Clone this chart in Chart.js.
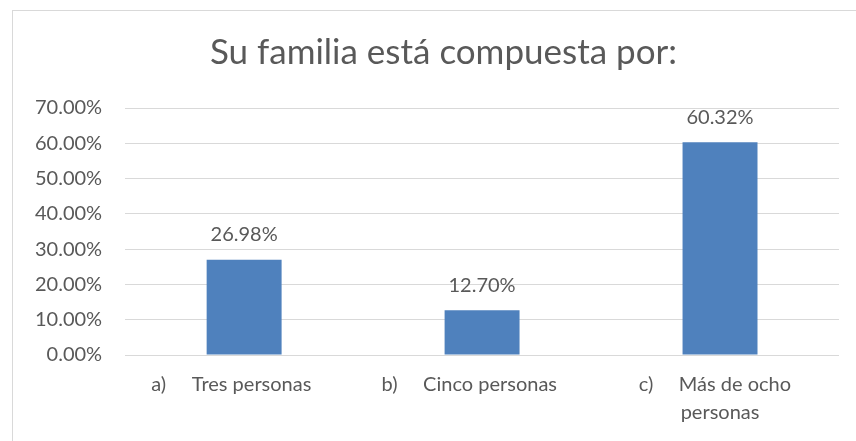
<!DOCTYPE html>
<html>
<head>
<meta charset="utf-8">
<script src="https://cdn.jsdelivr.net/npm/chart.js@4"></script>
<style>
  html, body { margin: 0; padding: 0; background: #fff; }
  #frame { position: absolute; left: 12px; top: 10px; width: 900px; height: 500px; border: 1px solid #d9d9d9; }
  #wrap { position: absolute; left: 0; top: 0; width: 856px; height: 441px; }
</style>
</head>
<body>
<div id="frame"></div>
<div id="wrap"><canvas id="chart"></canvas></div>
<script>
const categories = [
    "a)     Tres personas     ",
    "b)     Cinco personas     ",
    ["c)     Más de ocho  ", "personas"]
];
const percentages = [26.98, 12.70, 60.32];
const tickValues = [0, 10, 20, 30, 40, 50, 60, 70];

const FONT = "Lato, 'Open Sans', sans-serif";
const TEXT = "#595959";

// labels above each bar
const valueLabels = {
    id: "valueLabels",
    afterLayout(chart) {
        // the title sits a little right of the canvas centre
        chart.titleBlock.left += 36;
    },
    afterDatasetsDraw(chart) {
        const ctx = chart.ctx;
        const meta = chart.getDatasetMeta(0);
        ctx.save();
        ctx.font = "20px " + FONT;
        ctx.fillStyle = TEXT;
        ctx.textAlign = "center";
        ctx.textBaseline = "middle";
        meta.data.forEach((bar, i) => {
            ctx.fillText(percentages[i].toFixed(2) + "%", bar.x, bar.y - 25);
        });
        ctx.restore();
    }
};

const ctx = document.querySelector("#chart");
new Chart(ctx, {
    type: "bar",
    data: {
        labels: categories,
        datasets: [{
            data: percentages,
            backgroundColor: "#4f81bd",
            barPercentage: 0.63,
            categoryPercentage: 0.5
        }]
    },
    options: {
        responsive: true,
        maintainAspectRatio: false,
        animation: false,
        layout: { padding: { left: 12, right: 17, top: 0, bottom: 6 } },
        plugins: {
            legend: { display: false },
            tooltip: { enabled: false },
            title: {
                display: true,
                text: "Su familia está compuesta por:",
                color: TEXT,
                font: { family: FONT, size: 35, weight: "normal" },
                padding: { top: 32, bottom: 34 }
            }
        },
        scales: {
            x: {
                grid: { display: false },
                border: { display: false },
                ticks: {
                    color: TEXT,
                    font: { family: FONT, size: 20, lineHeight: 1.4 },
                    padding: 8,
                    maxRotation: 0
                }
            },
            y: {
                min: 0,
                max: 70,
                afterBuildTicks(axis) {
                    axis.ticks = tickValues.map(v => ({ value: v }));
                },
                grid: { color: "#d9d9d9", lineWidth: 1, drawTicks: false },
                border: { display: false },
                ticks: {
                    color: TEXT,
                    font: { family: FONT, size: 20 },
                    padding: 23,
                    callback: (v) => v.toFixed(2) + "%"
                }
            }
        }
    },
    plugins: [valueLabels]
});
</script>
</body>
</html>
